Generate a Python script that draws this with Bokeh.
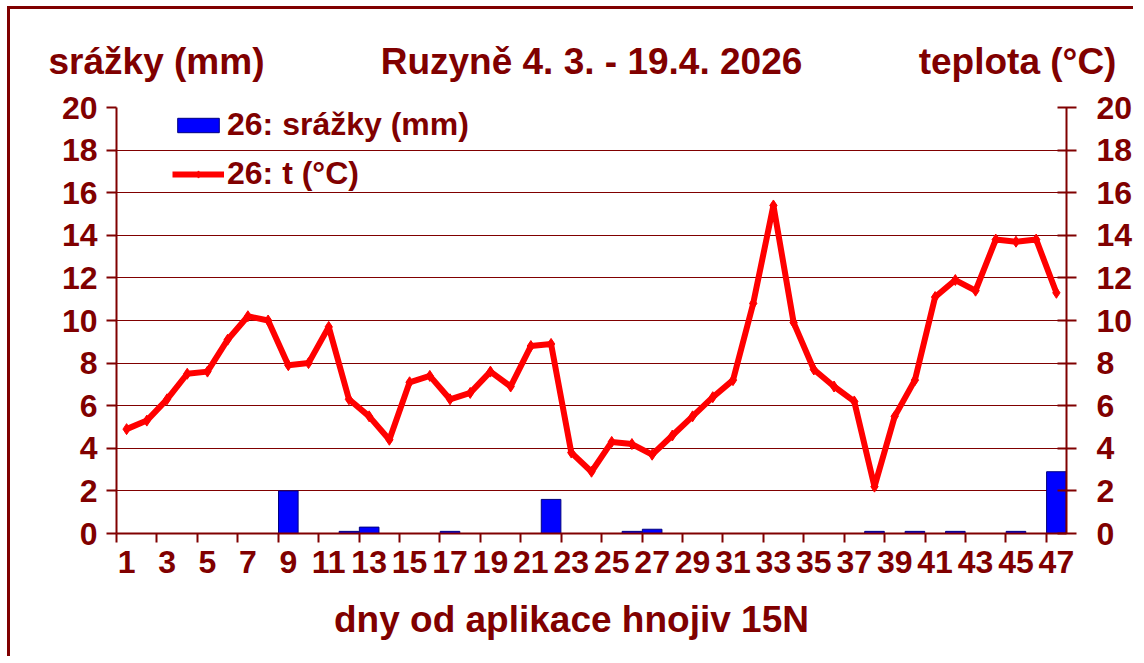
from bokeh.plotting import figure
from bokeh.models import (Range1d, LinearAxis, FixedTicker, Legend, LegendItem,
                          ColumnDataSource)
from bokeh.embed import file_html
from bokeh.resources import INLINE

# ---- data ----
days = list(range(1, 48))
temperature = [4.9, 5.3, 6.3, 7.5, 7.6, 9.1, 10.2, 10.0, 7.9, 8.0, 9.7, 6.3, 5.5, 4.4,
               7.1, 7.4, 6.3, 6.6, 7.6, 6.9, 8.8, 8.9, 3.8, 2.9, 4.3, 4.2, 3.7, 4.6,
               5.5, 6.4, 7.2, 10.8, 15.4, 9.9, 7.7, 6.9, 6.2, 2.2, 5.5, 7.2, 11.1,
               11.9, 11.4, 13.8, 13.7, 13.8, 11.3]
precip = [0, 0, 0, 0, 0, 0, 0, 0, 2.0, 0, 0, 0.1, 0.3, 0, 0, 0, 0.1, 0, 0, 0, 0,
          1.6, 0, 0, 0, 0.1, 0.2, 0, 0, 0, 0, 0, 0, 0, 0, 0, 0, 0.1, 0, 0.1, 0,
          0.1, 0, 0, 0.1, 0, 2.9]
x_tick_labels = [str(d) for d in range(1, 48, 2)]
y_ticks = list(range(0, 21, 2))

title_text = "Ruzyně 4. 3. - 19.4. 2026"
left_title = "srážky (mm)"
right_title = "teplota (°C)"
x_title = "dny od aplikace hnojiv 15N"
legend_bar = "26: srážky (mm)"
legend_line = "26: t (°C)"

DR = "#800000"
FONT = "Liberation Sans"

p = figure(width=1126, height=650, output_backend="svg", toolbar_location=None,
           x_range=Range1d(0.5, 47.5), y_range=Range1d(0, 20),
           min_border_left=106, min_border_right=70, min_border_top=98,
           min_border_bottom=126)
p.styles = {"border-top": "3px solid #800000", "border-left": "3px solid #800000",
            "margin-left": "7px", "margin-top": "6px"}
p.outline_line_color = None
p.background_fill_color = "white"
p.border_fill_color = "white"
p.xgrid.visible = False
p.ygrid.ticker = FixedTicker(ticks=y_ticks)
p.ygrid.grid_line_color = DR
p.ygrid.grid_line_width = 1


def style_labels(ax, size="32px"):
    ax.major_label_text_font = FONT
    ax.major_label_text_font_style = "bold"
    ax.major_label_text_font_size = size
    ax.major_label_text_color = DR


# x axis
xa = p.xaxis[0]
xa.ticker = FixedTicker(ticks=list(range(1, 48, 2)),
                        minor_ticks=[d - 0.5 for d in range(1, 48, 2)])
xa.major_label_overrides = {d: s for d, s in zip(range(1, 48, 2), x_tick_labels)}
xa.major_tick_out = 0
xa.major_tick_in = 0
xa.minor_tick_out = 9
xa.minor_tick_in = 0
xa.minor_tick_line_color = DR
xa.minor_tick_line_width = 2
xa.axis_line_color = DR
xa.axis_line_width = 2
xa.major_label_standoff = 8
style_labels(xa)

# x axis title (as a label-only axis, centred like the reference)
xt = LinearAxis(ticker=FixedTicker(ticks=[23.01], minor_ticks=[]),
                major_label_overrides={23.01: x_title})
xt.axis_line_color = None
xt.major_tick_line_color = None
xt.minor_tick_line_color = None
xt.major_label_standoff = 17
style_labels(xt, "37px")
p.add_layout(xt, "below")

# top titles (label-only axis above the frame)
top_pos = [2.479, 24.0, 45.08]
top_txt = [left_title, title_text, right_title]
ta = LinearAxis(ticker=FixedTicker(ticks=top_pos, minor_ticks=[]),
                major_label_overrides=dict(zip(top_pos, top_txt)))
ta.axis_line_color = None
ta.major_tick_line_color = None
ta.minor_tick_line_color = None
ta.major_label_standoff = 20
style_labels(ta, "37px")
p.add_layout(ta, "above")

# left axis
ya = p.yaxis[0]
ya.ticker = FixedTicker(ticks=y_ticks)
ya.major_tick_out = 10
ya.major_tick_in = 0
ya.minor_tick_out = 0
ya.minor_tick_in = 0
ya.major_tick_line_color = DR
ya.major_tick_line_width = 2
ya.axis_line_color = DR
ya.axis_line_width = 2
ya.major_label_standoff = 9
style_labels(ya)

# right axis
ra = LinearAxis(ticker=FixedTicker(ticks=y_ticks))
ra.major_tick_out = 10
ra.major_tick_in = 9
ra.minor_tick_out = 0
ra.minor_tick_in = 0
ra.major_tick_line_color = DR
ra.major_tick_line_width = 2
ra.axis_line_color = DR
ra.axis_line_width = 2
ra.major_label_standoff = 20
style_labels(ra)
p.add_layout(ra, "right")

# bars
bx = [d for d, v in zip(days, precip) if v > 0]
bv = [v for v in precip if v > 0]
bars = p.vbar(x=bx, top=bv, width=0.97, fill_color="#0000FF",
              line_color="#000080", line_width=1)

# temperature line
src = ColumnDataSource(dict(x=days, y=temperature))
ln = p.line("x", "y", source=src, line_color="#FF0000", line_width=6, line_join="round")
mk = p.scatter("x", "y", source=src, marker="diamond", size=11, fill_color="#FF0000",
               line_color="#FF0000")

legend = Legend(items=[LegendItem(label=legend_bar, renderers=[bars]),
                       LegendItem(label=legend_line, renderers=[ln, mk])],
                location=(56, 341), orientation="vertical",
                background_fill_alpha=0, border_line_color=None,
                glyph_width=52, glyph_height=18, label_height=36, spacing=12,
                label_standoff=3, padding=0, margin=0,
                label_text_font=FONT, label_text_font_style="bold",
                label_text_font_size="32px", label_text_color=DR)
p.add_layout(legend)

open("out.html", "w").write(file_html(p, INLINE))
